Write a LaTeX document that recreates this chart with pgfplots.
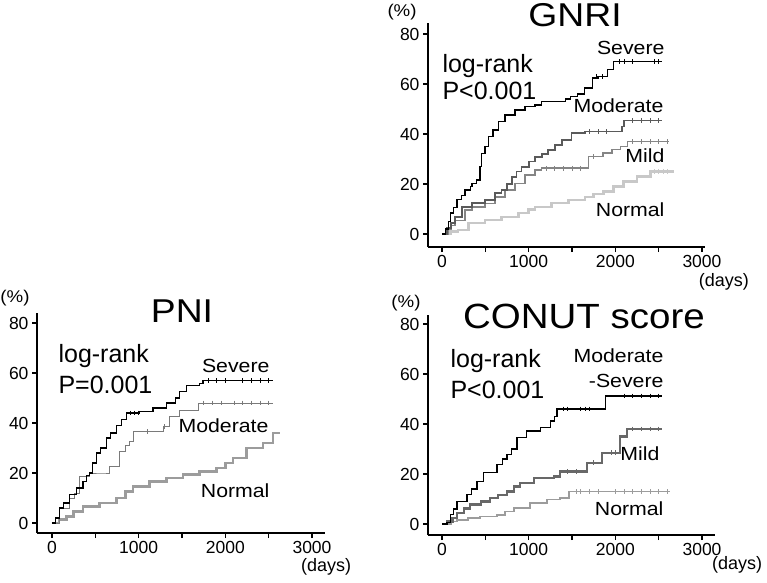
\documentclass[border=0pt]{standalone}
\usepackage{fontspec}
\setmainfont{Liberation Sans}
\usepackage{graphicx}
\usepackage{pgfplots}
\pgfplotsset{compat=1.18}
\newcommand{\fs}[1]{\fontsize{#1}{#1}\selectfont}
\newcommand{\hs}[2]{\scalebox{#1}[1]{#2}}
\pgfplotsset{km/.style={
  scale only axis,
  axis lines=left,
  axis line style={-, line width=1.6pt},
  tick align=outside,
  major tick length=5pt,
  tick style={line width=1.2pt, black},
  xtick={0,500,...,3000},
  xticklabels={0,,1000,,2000,,3000},
  ytick={0,20,40,60,80},
  yticklabels={0,20,40,60,80},
  xticklabel style={font=\fs{17.5}},
  yticklabel style={font=\fs{17.5}},
  /pgf/number format/assume math mode=true,
  clip=false,
  anchor=south west,
  every axis plot/.append style={const plot},
  cens/.style={only marks, mark=|, mark size=2.4pt, mark options={line width=0.8pt}},
}}
\definecolor{gA}{HTML}{5A5A5A}
\definecolor{gB}{HTML}{858585}
\definecolor{gC}{HTML}{C8C8C8}
\definecolor{gD}{HTML}{7A7A7A}
\definecolor{gE}{HTML}{9C9C9C}
\definecolor{gF}{HTML}{686868}
\begin{document}
\begin{tikzpicture}
\path[use as bounding box] (0,0) rectangle (767pt,582pt);
% ---------------- GNRI ----------------
\begin{axis}[km, at={(428pt,335pt)}, width=277pt, height=224pt,
  xmin=-161.5, xmax=3035, ymin=-5.2, ymax=84.4]
\addplot[gC, line width=2.4pt, no marks] coordinates {(0,0)(100,1)(188,1.6)(304,4.3)(496,5.6)(688,6.9)(881,8.3)(1000,9.8)(1073,10.9)(1265,12.3)(1458,13.6)(1650,14.9)(1750,16)(1865,17)(1980,19)(2096,21)(2250,23)(2404,25)(2673,25)};
\addplot[gC, cens] coordinates {(2450,25)(2500,25)(2550,25)(2600,25)};
\addplot[gB, line width=1.5pt, no marks] coordinates {(0,0)(70,2)(110,3.5)(150,5.5)(265,9.6)(346,10.9)(496,12.3)(612,14.9)(727,17.6)(842,20.3)(958,23.6)(1073,25.6)(1150,26.3)(1690,31)(1860,32.4)(1960,33.7)(2060,35)(2140,37)(2615,37)};
\addplot[gB, cens] coordinates {(1200,26.3)(1300,26.3)(1400,26.3)(1500,26.3)(1600,26.3)(1750,31)(2200,37)(2300,37)(2400,37)(2500,37)(2600,37)};
\addplot[gA, line width=1.7pt, no marks] coordinates {(0,0)(60,2.5)(100,4.5)(150,6.9)(227,10.9)(346,12.3)(496,13.6)(612,16.3)(688,17.6)(750,20)(804,22.9)(860,25)(919,26.9)(1000,29)(1073,30.9)(1150,32)(1227,33.6)(1300,35.5)(1381,37.6)(1496,40.3)(1650,41)(2080,43)(2100,45.4)(2540,45.4)};
\addplot[gA, cens] coordinates {(1700,41)(1800,41)(1900,41)(2200,45.4)(2300,45.4)(2400,45.4)(2500,45.4)};
\addplot[black, line width=1.1pt, no marks] coordinates {(0,0)(40,2)(70,5)(96,8.4)(130,10.5)(173,13.7)(220,15.5)(265,17.6)(327,19)(346,20.3)(400,21.6)(438,26.9)(458,32.2)(496,34.9)(535,38.9)(589,41.6)(650,44.9)(727,47.6)(842,49.6)(958,50.9)(1073,51.6)(1150,52.9)(1420,54)(1480,55)(1560,56)(1640,58.4)(1740,62.4)(1800,63)(1910,65.7)(1980,69)(2540,69)};
\addplot[black, cens] coordinates {(1780,63)(1850,63)(2050,69)(2100,69)(2200,69)(2450,69)(2500,69)};
\node[anchor=base, font=\fs{33}] at (axis cs:1535,82.8) {\hs{1.13}{GNRI}};
\node[font=\fs{17}] at (axis cs:-461,88.8) {\hs{1.1}{(\%)}};
\node[anchor=base west, font=\fs{25}] at (axis cs:-35,64.5) {log-rank};
\node[anchor=base west, font=\fs{25}] at (axis cs:-35,53.6) {P<0.001};
\node[anchor=base east, font=\fs{19}] at (axis cs:2608,71.6) {\hs{1.12}{Severe}};
\node[anchor=base east, font=\fs{19}] at (axis cs:2596,48.4) {\hs{1.12}{Moderate}};
\node[anchor=base east, font=\fs{19}] at (axis cs:2608,28.4) {\hs{1.12}{Mild}};
\node[anchor=base east, font=\fs{19}] at (axis cs:2608,7.2) {\hs{1.12}{Normal}};
\node[font=\fs{18}] at (axis cs:3254,-19) {(days)};
\end{axis}
% ---------------- PNI ----------------
\begin{axis}[km, at={(37pt,49pt)}, width=288pt, height=220pt,
  xmin=-173, xmax=3150, ymin=-4, ymax=84]
\addplot[gE, line width=2.8pt, no marks] coordinates {(0,0)(80,1.5)(165,2.7)(250,4.5)(358,6.6)(550,8)(742,10)(850,12.5)(935,14.6)(1127,16.6)(1319,18)(1512,19.3)(1704,20.6)(1896,22)(2000,24)(2088,26)(2242,30)(2435,32)(2550,36)(2627,36)};
\addplot[gD, line width=1.0pt, no marks] coordinates {(0,0)(88,6)(204,10)(260,12)(319,18.6)(435,20)(588,20)(665,22.6)(781,28.6)(850,31)(896,32.5)(935,36.5)(1242,36.5)(1281,38.5)(1358,42.5)(1473,45)(1685,48)(2550,48)};
\addplot[gD, cens] coordinates {(1100,36.5)(1300,38.5)(1750,48)(1850,48)(1950,48)(2100,48)(2200,48)(2300,48)(2400,48)(2500,48)};
\addplot[black, line width=1.1pt, no marks] coordinates {(0,0)(40,2)(88,6)(130,8)(204,11.3)(280,14)(358,16.6)(400,19)(435,20)(470,24)(512,28)(560,30)(627,34)(680,36)(742,39)(800,41.5)(858,44)(1012,44.5)(1165,46)(1319,48)(1420,50)(1473,52.5)(1550,55)(1704,55.8)(1742,57)(2550,57)};
\addplot[black, cens] coordinates {(900,44)(950,44)(1000,44)(1800,57)(1900,57)(2000,57)(2200,57)(2300,57)(2400,57)(2500,57)};
\node[anchor=base, font=\fs{33}] at (axis cs:1500,80.4) {\hs{1.13}{PNI}};
\node[font=\fs{17}] at (axis cs:-427,90) {\hs{1.1}{(\%)}};
\node[anchor=base west, font=\fs{25}] at (axis cs:35,64.4) {log-rank};
\node[anchor=base west, font=\fs{25}] at (axis cs:35,52) {P=0.001};
\node[anchor=base east, font=\fs{19}] at (axis cs:2550,60.4) {\hs{1.12}{Severe}};
\node[anchor=base east, font=\fs{19}] at (axis cs:2538,36.4) {\hs{1.12}{Moderate}};
\node[anchor=base east, font=\fs{19}] at (axis cs:2550,10.4) {\hs{1.12}{Normal}};
\node[font=\fs{18}] at (axis cs:3162,-17.6) {(days)};
\end{axis}
% ---------------- CONUT ----------------
\begin{axis}[km, at={(428pt,47pt)}, width=287pt, height=220pt,
  xmin=-161.5, xmax=3150, ymin=-4.4, ymax=83.6]
\addplot[gE, line width=1.8pt, no marks] coordinates {(0,0)(100,1)(173,1.7)(300,2.5)(442,3)(635,3.7)(730,5)(827,6.4)(1019,8.4)(1212,9.8)(1365,10.4)(1462,13)(2635,13)};
\addplot[gE, cens] coordinates {(1550,13)(1600,13)(1700,13)(1800,13)(2000,13)(2100,13)(2200,13)(2300,13)(2400,13)(2500,13)(2600,13)};
\addplot[gF, line width=2.2pt, no marks] coordinates {(0,0)(60,1)(120,2.5)(173,4.4)(250,6.2)(327,7.8)(450,9)(558,10.4)(650,11.6)(750,13)(830,15)(904,16.5)(1058,18.5)(1288,19)(1365,21)(1673,24.5)(1846,28.5)(2058,35)(2135,38)(2538,38)};
\addplot[gF, cens] coordinates {(1450,21)(1550,21)(1750,24.5)(1950,28.5)(2000,28.5)(2200,38)(2300,38)(2400,38)(2500,38)};
\addplot[black, line width=1.1pt, no marks] coordinates {(0,0)(58,0.5)(96,3.7)(130,6)(173,9)(288,11.8)(340,14)(404,17)(481,20.5)(635,23.8)(700,26)(750,27.8)(800,30)(865,34.5)(980,37.2)(1135,38.5)(1250,41.2)(1300,43)(1327,46)(1885,51.2)(2538,51.2)};
\addplot[black, cens] coordinates {(1400,46)(1450,46)(1600,46)(1650,46)(1700,46)(2100,51.2)(2200,51.2)(2300,51.2)(2400,51.2)(2500,51.2)};
\node[anchor=base, font=\fs{35}] at (axis cs:1638,78.4) {\hs{1.1}{CONUT score}};
\node[font=\fs{17}] at (axis cs:-415,88.4) {\hs{1.1}{(\%)}};
\node[anchor=base west, font=\fs{25}] at (axis cs:58,62.8) {log-rank};
\node[anchor=base west, font=\fs{25}] at (axis cs:58,50.4) {P<0.001};
\node[anchor=base east, font=\fs{19}] at (axis cs:2596,64.8) {\hs{1.12}{Moderate}};
\node[anchor=base east, font=\fs{19}] at (axis cs:2596,54.8) {\hs{1.12}{-Severe}};
\node[anchor=base east, font=\fs{19}] at (axis cs:2550,25.6) {\hs{1.12}{Mild}};
\node[anchor=base east, font=\fs{19}] at (axis cs:2596,3.6) {\hs{1.12}{Normal}};
\node[font=\fs{18}] at (axis cs:3404,-16.4) {(days)};
\end{axis}
\end{tikzpicture}
\end{document}
